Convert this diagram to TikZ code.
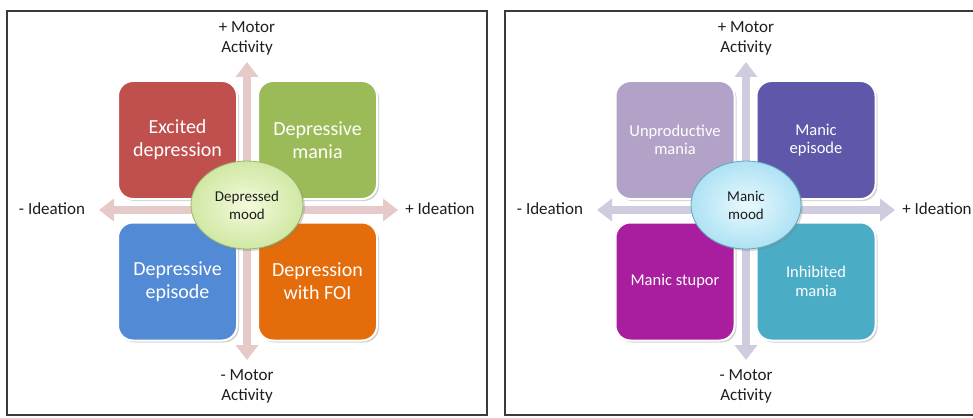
\documentclass[tikz,border=0pt]{standalone}
\usepackage{fontspec}
\setmainfont{Carlito}
\usetikzlibrary{arrows.meta,shapes.geometric,shadows}
\definecolor{framec}{HTML}{3A3A3A}
\definecolor{labc}{HTML}{1E1E1E}
\definecolor{axisL}{HTML}{E6C9C9}
\definecolor{axisR}{HTML}{CFCCE0}
\definecolor{cED}{HTML}{C0504D}
\definecolor{cDM}{HTML}{9BBB59}
\definecolor{cDE}{HTML}{528AD5}
\definecolor{cDF}{HTML}{E46C0A}
\definecolor{cUM}{HTML}{B3A2C7}
\definecolor{cME}{HTML}{5F58AA}
\definecolor{cMS}{HTML}{A91E9E}
\definecolor{cIM}{HTML}{4BACC6}
\definecolor{elLin}{HTML}{F4FADC}
\definecolor{elLout}{HTML}{D0E8A4}
\definecolor{elLb}{HTML}{9BB56A}
\definecolor{elRin}{HTML}{E8F9FE}
\definecolor{elRout}{HTML}{AEE2F4}
\definecolor{elRb}{HTML}{5FA6C0}
\tikzset{
  panel/.style={draw=framec, line width=1.5pt, fill=white},
  quad/.style={rounded corners=15pt, draw=white, line width=2pt,
    minimum width=119pt, minimum height=118pt, inner sep=0pt,
    text=white, align=center,
    drop shadow={opacity=0.35, shadow xshift=2pt, shadow yshift=-2pt}},
  bigq/.style={quad, font=\fontsize{20}{23}\selectfont},
  smallq/.style={quad, font=\fontsize{16.5}{18.5}\selectfont},
  mood/.style={ellipse, line width=0.8pt, inner sep=0pt, align=center,
    text=labc, font=\fontsize{15}{18}\selectfont,
    drop shadow={opacity=0.3, shadow xshift=2pt, shadow yshift=-2pt}},
  axlab/.style={text=labc, align=center, font=\fontsize{17}{20}\selectfont, inner sep=0pt},
  axarrow/.style={line width=8pt,
    {Triangle[width=22pt,length=15pt]}-{Triangle[width=22pt,length=15pt]}},
}
\begin{document}
\begin{tikzpicture}[x=1pt,y=-1pt]
\useasboundingbox (0,0) rectangle (973,417);
\clip (0,0) rectangle (973,417);
\fill[white] (0,0) rectangle (973,417);
% frames
\draw[panel] (7,11) rectangle (487,415);
\draw[panel] (505,11) rectangle (985,415);

% ---------- left panel ----------
\coordinate (Lt) at (247,62);
\coordinate (Lb) at (247,360);
\coordinate (Ll) at (99,210);
\coordinate (Lr) at (398,210);
\draw[axarrow, axisL] (Lt) -- (Lb);
\draw[axarrow, axisL] (Ll) -- (Lr);
\node[bigq, fill=cED] (ed) at (177.5,140) {Excited\\depression};
\node[bigq, fill=cDM] (dm) at (317.5,140) {Depressive\\mania};
\node[bigq, fill=cDE] (de) at (177.5,281.5) {Depressive\\episode};
\node[bigq, fill=cDF] (df) at (317.5,281.5) {Depression\\with FOI};
\node[mood, draw=elLb, inner color=elLin, outer color=elLout,
  minimum width=112pt, minimum height=88pt] (dmood) at (247,205) {Depressed\\mood};
\node[axlab] (Lup) at (247,38) {+ Motor\\Activity};
\node[axlab] (Ldn) at (247,386) {- Motor\\Activity};
\node[axlab] (Lleft) at (52,209) {- Ideation};
\node[axlab] (Lright) at (440,209) {+ Ideation};

% ---------- right panel ----------
\coordinate (Rt) at (746,62);
\coordinate (Rb) at (746,360);
\coordinate (Rl) at (597,210);
\coordinate (Rr) at (895,210);
\draw[axarrow, axisR] (Rt) -- (Rb);
\draw[axarrow, axisR] (Rl) -- (Rr);
\node[smallq, fill=cUM] (um) at (675,140) {Unproductive\\mania};
\node[smallq, fill=cME] (me) at (816,140) {Manic\\episode};
\node[smallq, fill=cMS] (ms) at (675,281.5) {Manic stupor};
\node[smallq, fill=cIM] (im) at (816,281.5) {Inhibited\\mania};
\node[mood, draw=elRb, inner color=elRin, outer color=elRout,
  minimum width=110pt, minimum height=88pt] (mmood) at (746,205) {Manic\\mood};
\node[axlab] (Rup) at (746,38) {+ Motor\\Activity};
\node[axlab] (Rdn) at (746,386) {- Motor\\Activity};
\node[axlab] (Rleft) at (550,209) {- Ideation};
\node[axlab] (Rright) at (937,209) {+ Ideation};
\end{tikzpicture}
\end{document}
